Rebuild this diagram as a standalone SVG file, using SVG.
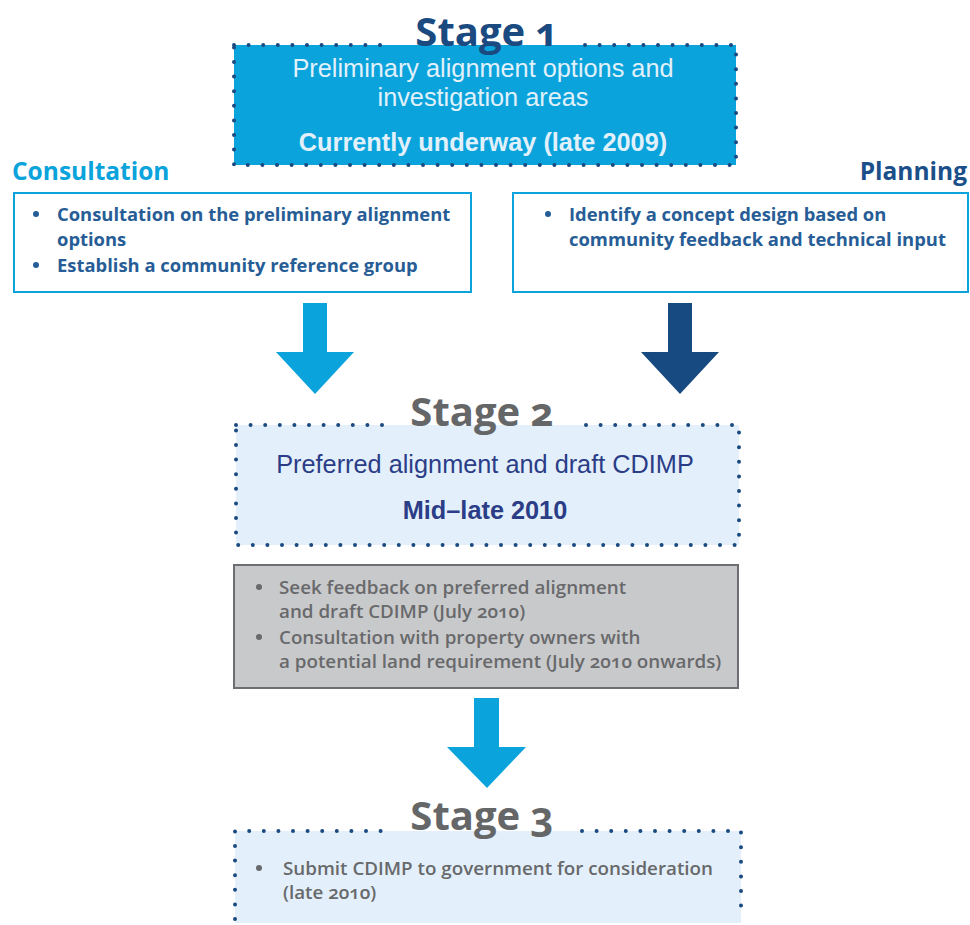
<svg xmlns="http://www.w3.org/2000/svg" width="970" height="925" viewBox="0 0 970 925">
<style>
.dots{fill:none;stroke:#1a4a80;stroke-width:4;stroke-linecap:round;stroke-dasharray:0 14.6}
.stage{font-family:"Open Sans","Noto Sans",sans-serif;font-weight:700;font-size:40px;text-anchor:middle;font-variant-numeric:oldstyle-nums}
.big{font-family:"Liberation Sans",Arial,sans-serif;font-size:25.3px;text-anchor:middle}
.bul{font-family:"Open Sans","Noto Sans",sans-serif;font-weight:700;font-size:18.4px;fill:#275d96}
.gray{font-family:"Open Sans","Noto Sans",sans-serif;font-weight:600;font-size:18.8px;fill:#68696b;font-variant-numeric:oldstyle-nums}
.head{font-family:"Open Sans","Noto Sans",sans-serif;font-weight:700;font-size:24.5px}
</style>
<rect width="970" height="925" fill="#ffffff"/>

<g id="stage1">
  <rect x="234" y="45" width="502" height="120" fill="#0ba3dc"/>
  <path class="dots" d="M234 45 H385 M585 45 H736 V165 H234 V45"/>
  <text class="stage" x="487" y="46" fill="#1a4a80">Stage 1</text>
  <text class="big" x="483" y="77" fill="#e1f1fb">Preliminary alignment options and</text>
  <text class="big" x="483" y="106" fill="#e1f1fb">investigation areas</text>
  <text class="big" x="483" y="151" fill="#e1f1fb" font-weight="700">Currently underway (late 2009)</text>
</g>

<g id="consultation">
  <text class="head" x="12" y="180" fill="#0aa3dc">Consultation</text>
  <rect x="14" y="193" width="457" height="99" fill="#ffffff" stroke="#0aa3dc" stroke-width="2"/>
  <circle cx="36" cy="214" r="3" fill="#275d96"/>
  <text class="bul" x="57" y="221">Consultation on the preliminary alignment</text>
  <text class="bul" x="57" y="246">options</text>
  <circle cx="36" cy="265" r="3" fill="#275d96"/>
  <text class="bul" x="57" y="272">Establish a community reference group</text>
</g>

<g id="planning">
  <text class="head" x="967" y="180" fill="#1b4f8a" text-anchor="end">Planning</text>
  <rect x="513" y="193" width="455" height="99" fill="#ffffff" stroke="#0aa3dc" stroke-width="2"/>
  <circle cx="548" cy="214" r="3" fill="#275d96"/>
  <text class="bul" x="569" y="221">Identify a concept design based on</text>
  <text class="bul" x="569" y="246">community feedback and technical input</text>
</g>

<g id="connectors">
  <polygon points="303,303 327,303 327,352 354,352 315,394 276,352 303,352" fill="#0aa3dc"/>
  <polygon points="668,303 692,303 692,352 719,352 680,394 641,352 668,352" fill="#164a80"/>
  <polygon points="474,698 499,698 499,747 526,747 487,788 447,747 474,747" fill="#0aa3dc"/>
</g>

<g id="stage2">
  <rect x="236" y="425" width="503" height="120" fill="#e3f0fb"/>
  <path class="dots" d="M236 425 H390 M586 425 H739 V545 H236 V425"/>
  <text class="stage" x="482" y="426" fill="#656668">Stage 2</text>
  <text class="big" x="485" y="473" fill="#2b3d87">Preferred alignment and draft CDIMP</text>
  <text class="big" x="485" y="519" fill="#2b3d87" font-weight="700">Mid–late 2010</text>
</g>

<g id="feedback">
  <rect x="234" y="565" width="504" height="123" fill="#c8c9cb" stroke="#6d6e71" stroke-width="2"/>
  <circle cx="259" cy="587" r="3" fill="#68696b"/>
  <text class="gray" x="279" y="594">Seek feedback on preferred alignment</text>
  <text class="gray" x="279" y="618">and draft CDIMP (July 2010)</text>
  <circle cx="259" cy="637" r="3" fill="#68696b"/>
  <text class="gray" x="279" y="644">Consultation with property owners with</text>
  <text class="gray" x="279" y="668">a potential land requirement (July 2010 onwards)</text>
</g>

<g id="stage3">
  <rect x="235" y="831" width="506" height="92" fill="#e3f0fb"/>
  <path class="dots" d="M235 919 V831 H390 M582 831 H741 V919"/>
  <text class="stage" x="482" y="830" fill="#656668">Stage 3</text>
  <circle cx="259" cy="868" r="3" fill="#68696b"/>
  <text class="gray" x="283" y="875">Submit CDIMP to government for consideration</text>
  <text class="gray" x="283" y="899">(late 2010)</text>
</g>
</svg>
